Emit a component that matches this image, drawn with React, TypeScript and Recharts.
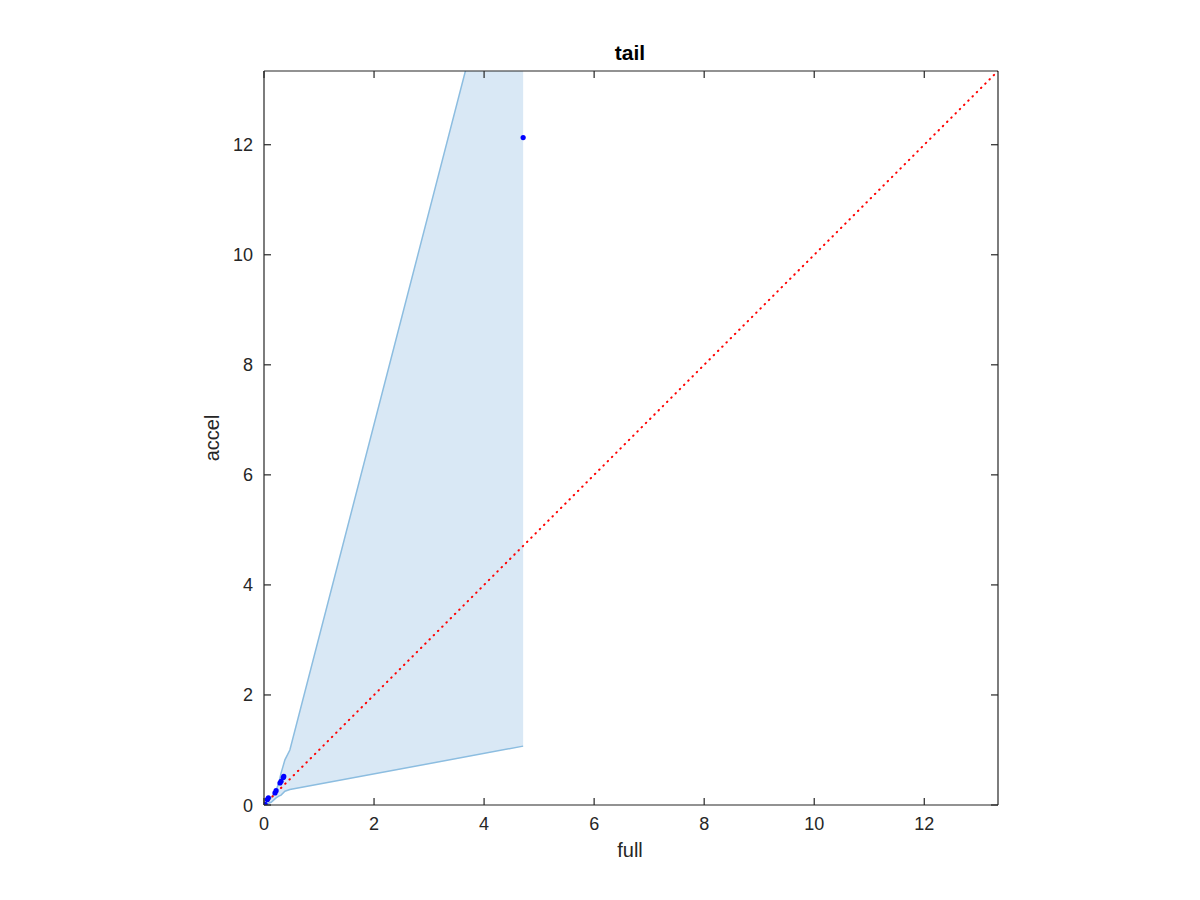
import {
    ComposedChart,
    Area,
    Line,
    Scatter,
    XAxis,
    YAxis,
} from 'recharts';

const AXIS_MAX = 13.34;
const TICKS = [0, 2, 4, 6, 8, 10, 12];

// shaded band: lower / upper edge
const bandX = [0, 0.13, 0.22, 0.27, 0.31, 0.38, 0.47, 4.71];
const bandLow = [0, 0.05, 0.13, 0.16, 0.18, 0.25, 0.28, 1.07];
const bandHigh = [0, 0.13, 0.27, 0.4, 0.58, 0.82, 1.0, 17.4];

// measured points
const fullVals = [0, 0.02, 0.06, 0.08, 0.2, 0.22, 0.29, 0.31, 0.35, 0.36, 4.71];
const accelVals = [0, 0.01, 0.1, 0.13, 0.22, 0.26, 0.4, 0.43, 0.5, 0.52, 12.13];

// y = x reference
const diagX = [0, AXIS_MAX];

const bandData = bandX.map((x, i) => ({x, band: [bandLow[i], bandHigh[i]]}));
const pointData = fullVals.map((x, i) => ({x, y: accelVals[i]}));
const diagData = diagX.map(x => ({x, y: x}));

const AXIS_COLOR = '#262626';
const FONT = '"Liberation Sans", Arial, sans-serif';
const TICK_LEN = 7;
const TICK_FONT = 18;

// MATLAB-style ticks pointing into the plot
const BottomTick = (p: any) => (
    <g>
        <line x1={p.x} y1={p.y} x2={p.x} y2={p.y - TICK_LEN} stroke={AXIS_COLOR} strokeWidth={1.2} />
        <text x={p.x} y={p.y + 25} textAnchor="middle" fontFamily={FONT} fontSize={TICK_FONT} fill={AXIS_COLOR}>
            {p.payload.value}
        </text>
    </g>
);
const TopTick = (p: any) => (
    <line x1={p.x} y1={p.y} x2={p.x} y2={p.y + TICK_LEN} stroke={AXIS_COLOR} strokeWidth={1.2} />
);
const LeftTick = (p: any) => (
    <g>
        <line x1={p.x} y1={p.y} x2={p.x + TICK_LEN} y2={p.y} stroke={AXIS_COLOR} strokeWidth={1.2} />
        <text x={p.x - 11} y={p.y + 6.5} textAnchor="end" fontFamily={FONT} fontSize={TICK_FONT} fill={AXIS_COLOR}>
            {p.payload.value}
        </text>
    </g>
);
const RightTick = (p: any) => (
    <line x1={p.x} y1={p.y} x2={p.x - TICK_LEN} y2={p.y} stroke={AXIS_COLOR} strokeWidth={1.2} />
);

const Dot = (props: any) => (
    <circle cx={props.cx} cy={props.cy} r={2.6} fill="#0000ff" />
);

const App = () => {
    return (
        <div style={{position: 'absolute', left: 0, top: 0, width: 1200, height: 900, background: '#fff'}}>
            <ComposedChart
                width={1200}
                height={900}
                margin={{top: 61, right: 192, left: 204, bottom: 65}}
            >
                <XAxis
                    xAxisId="top"
                    orientation="top"
                    type="number"
                    dataKey="x"
                    domain={[0, AXIS_MAX]}
                    allowDataOverflow
                    ticks={TICKS}
                    tick={TopTick}
                    tickLine={false}
                    tickSize={0}
                    tickMargin={0}
                    height={10}
                    stroke={AXIS_COLOR}
                    strokeWidth={1.2}
                />
                <YAxis
                    yAxisId="right"
                    orientation="right"
                    type="number"
                    domain={[0, AXIS_MAX]}
                    allowDataOverflow
                    ticks={TICKS}
                    tick={RightTick}
                    tickLine={false}
                    tickSize={0}
                    tickMargin={0}
                    width={10}
                    stroke={AXIS_COLOR}
                    strokeWidth={1.2}
                />
                <XAxis
                    type="number"
                    dataKey="x"
                    domain={[0, AXIS_MAX]}
                    allowDataOverflow
                    ticks={TICKS}
                    tick={BottomTick}
                    tickLine={false}
                    tickSize={0}
                    tickMargin={0}
                    height={30}
                    stroke={AXIS_COLOR}
                    strokeWidth={1.2}
                />
                <YAxis
                    type="number"
                    domain={[0, AXIS_MAX]}
                    allowDataOverflow
                    ticks={TICKS}
                    tick={LeftTick}
                    tickLine={false}
                    tickSize={0}
                    tickMargin={0}
                    width={60}
                    stroke={AXIS_COLOR}
                    strokeWidth={1.2}
                />
                <Area
                    data={bandData}
                    dataKey="band"
                    type="linear"
                    fill="#d9e8f5"
                    fillOpacity={1}
                    stroke="#8cbde0"
                    strokeWidth={1.5}
                    isAnimationActive={false}
                />
                <Line
                    data={diagData}
                    dataKey="y"
                    type="linear"
                    stroke="#ff0000"
                    strokeWidth={2}
                    strokeLinecap="round"
                    strokeDasharray="0.5 5.5"
                    dot={false}
                    isAnimationActive={false}
                />
                {/* hidden series so the top / right box axes get drawn */}
                <Line
                    data={diagData}
                    dataKey="y"
                    xAxisId="top"
                    yAxisId="right"
                    stroke="none"
                    dot={false}
                    isAnimationActive={false}
                />
                <Scatter
                    data={pointData}
                    dataKey="y"
                    shape={Dot}
                    isAnimationActive={false}
                />
                <text x={630} y={60} textAnchor="middle" fontFamily={FONT} fontSize={21} fontWeight="bold" fill="#000">
                    tail
                </text>
                <text x={630} y={857} textAnchor="middle" fontFamily={FONT} fontSize={20} fill={AXIS_COLOR}>
                    full
                </text>
                <text
                    x={219}
                    y={438}
                    textAnchor="middle"
                    fontFamily={FONT}
                    fontSize={20}
                    fill={AXIS_COLOR}
                    transform="rotate(-90 219 438)"
                >
                    accel
                </text>
            </ComposedChart>
        </div>
    );
};

export default App;
